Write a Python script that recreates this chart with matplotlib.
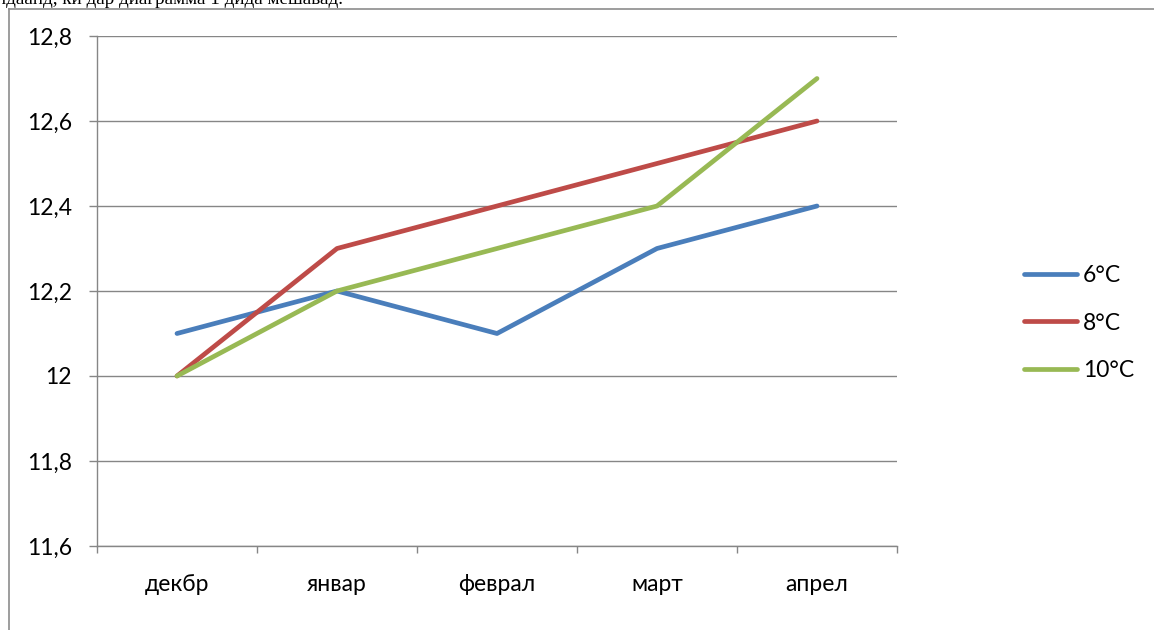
import matplotlib
matplotlib.use("Agg")
import matplotlib.pyplot as plt
from matplotlib.lines import Line2D

categories = ["декбр", "январ", "феврал", "март", "апрел"]
series_names = ["6°C", "8°C", "10°C"]
s6 = [12.1, 12.2, 12.1, 12.3, 12.4]
s8 = [12.0, 12.3, 12.4, 12.5, 12.6]
s10 = [12.0, 12.2, 12.3, 12.4, 12.7]
yticks = [11.6, 11.8, 12.0, 12.2, 12.4, 12.6, 12.8]
ytick_labels = ["11,6", "11,8", "12", "12,2", "12,4", "12,6", "12,8"]
colors = ["#4A7EBB", "#BE4B48", "#98B954"]

W, H = 1154, 630
fig = plt.figure(figsize=(W / 100, H / 100), dpi=100)
fig.patch.set_facecolor("white")

font = ["Lato", "DejaVu Sans"]
plt.rcParams["font.family"] = font

# outer frame (partially visible)
fig.add_artist(Line2D([8.5 / W, 8.5 / W], [0, 1 - 9 / H], color="#8c8c8c", lw=1.2, transform=fig.transFigure))
fig.add_artist(Line2D([8.5 / W, 1], [1 - 9 / H, 1 - 9 / H], color="#8c8c8c", lw=1.2, transform=fig.transFigure))

# cropped text at top (cut off in the original as well)
fig.text(-4 / W, 1 - 4 / H, "ндаанд, ки дар диаграмма 1 дида мешавад.", family="Liberation Serif",
         fontsize=13.8, ha="left", va="baseline", color="black")

ax = fig.add_axes([97 / W, (H - 546) / H, 800 / W, 510 / H])
x = list(range(len(categories)))
for vals, name, c in zip([s6, s8, s10], series_names, colors):
    ax.plot(x, vals, color=c, lw=3.4, label=name, solid_capstyle="round", zorder=3)

ax.set_xlim(-0.5, len(categories) - 0.5)
ax.set_ylim(11.6, 12.8)
ax.set_yticks(yticks)
ax.set_yticklabels(ytick_labels, fontsize=16.5)
ax.set_xticks(x)
ax.set_xticklabels(categories, fontsize=16.5)
ax.set_xticks([i - 0.5 for i in range(len(categories) + 1)], minor=True)
ax.tick_params(axis="x", which="major", length=0, pad=20)
ax.tick_params(axis="x", which="minor", length=5, color="#868686", width=1)
ax.tick_params(axis="y", length=6, color="#868686", width=1, pad=12)
ax.grid(axis="y", color="#868686", lw=1, zorder=0)
for sp in ["top", "right"]:
    ax.spines[sp].set_visible(False)
for sp in ["left", "bottom"]:
    ax.spines[sp].set_color("#868686")
    ax.spines[sp].set_linewidth(1)

leg = ax.legend(loc="center left", bbox_to_anchor=(1003 / W, 1 - 323 / H), bbox_transform=fig.transFigure,
                frameon=False, fontsize=16.5, handlelength=2.35, handletextpad=0.25, labelspacing=1.15)

fig.savefig("out.png", dpi=100, facecolor="white")
